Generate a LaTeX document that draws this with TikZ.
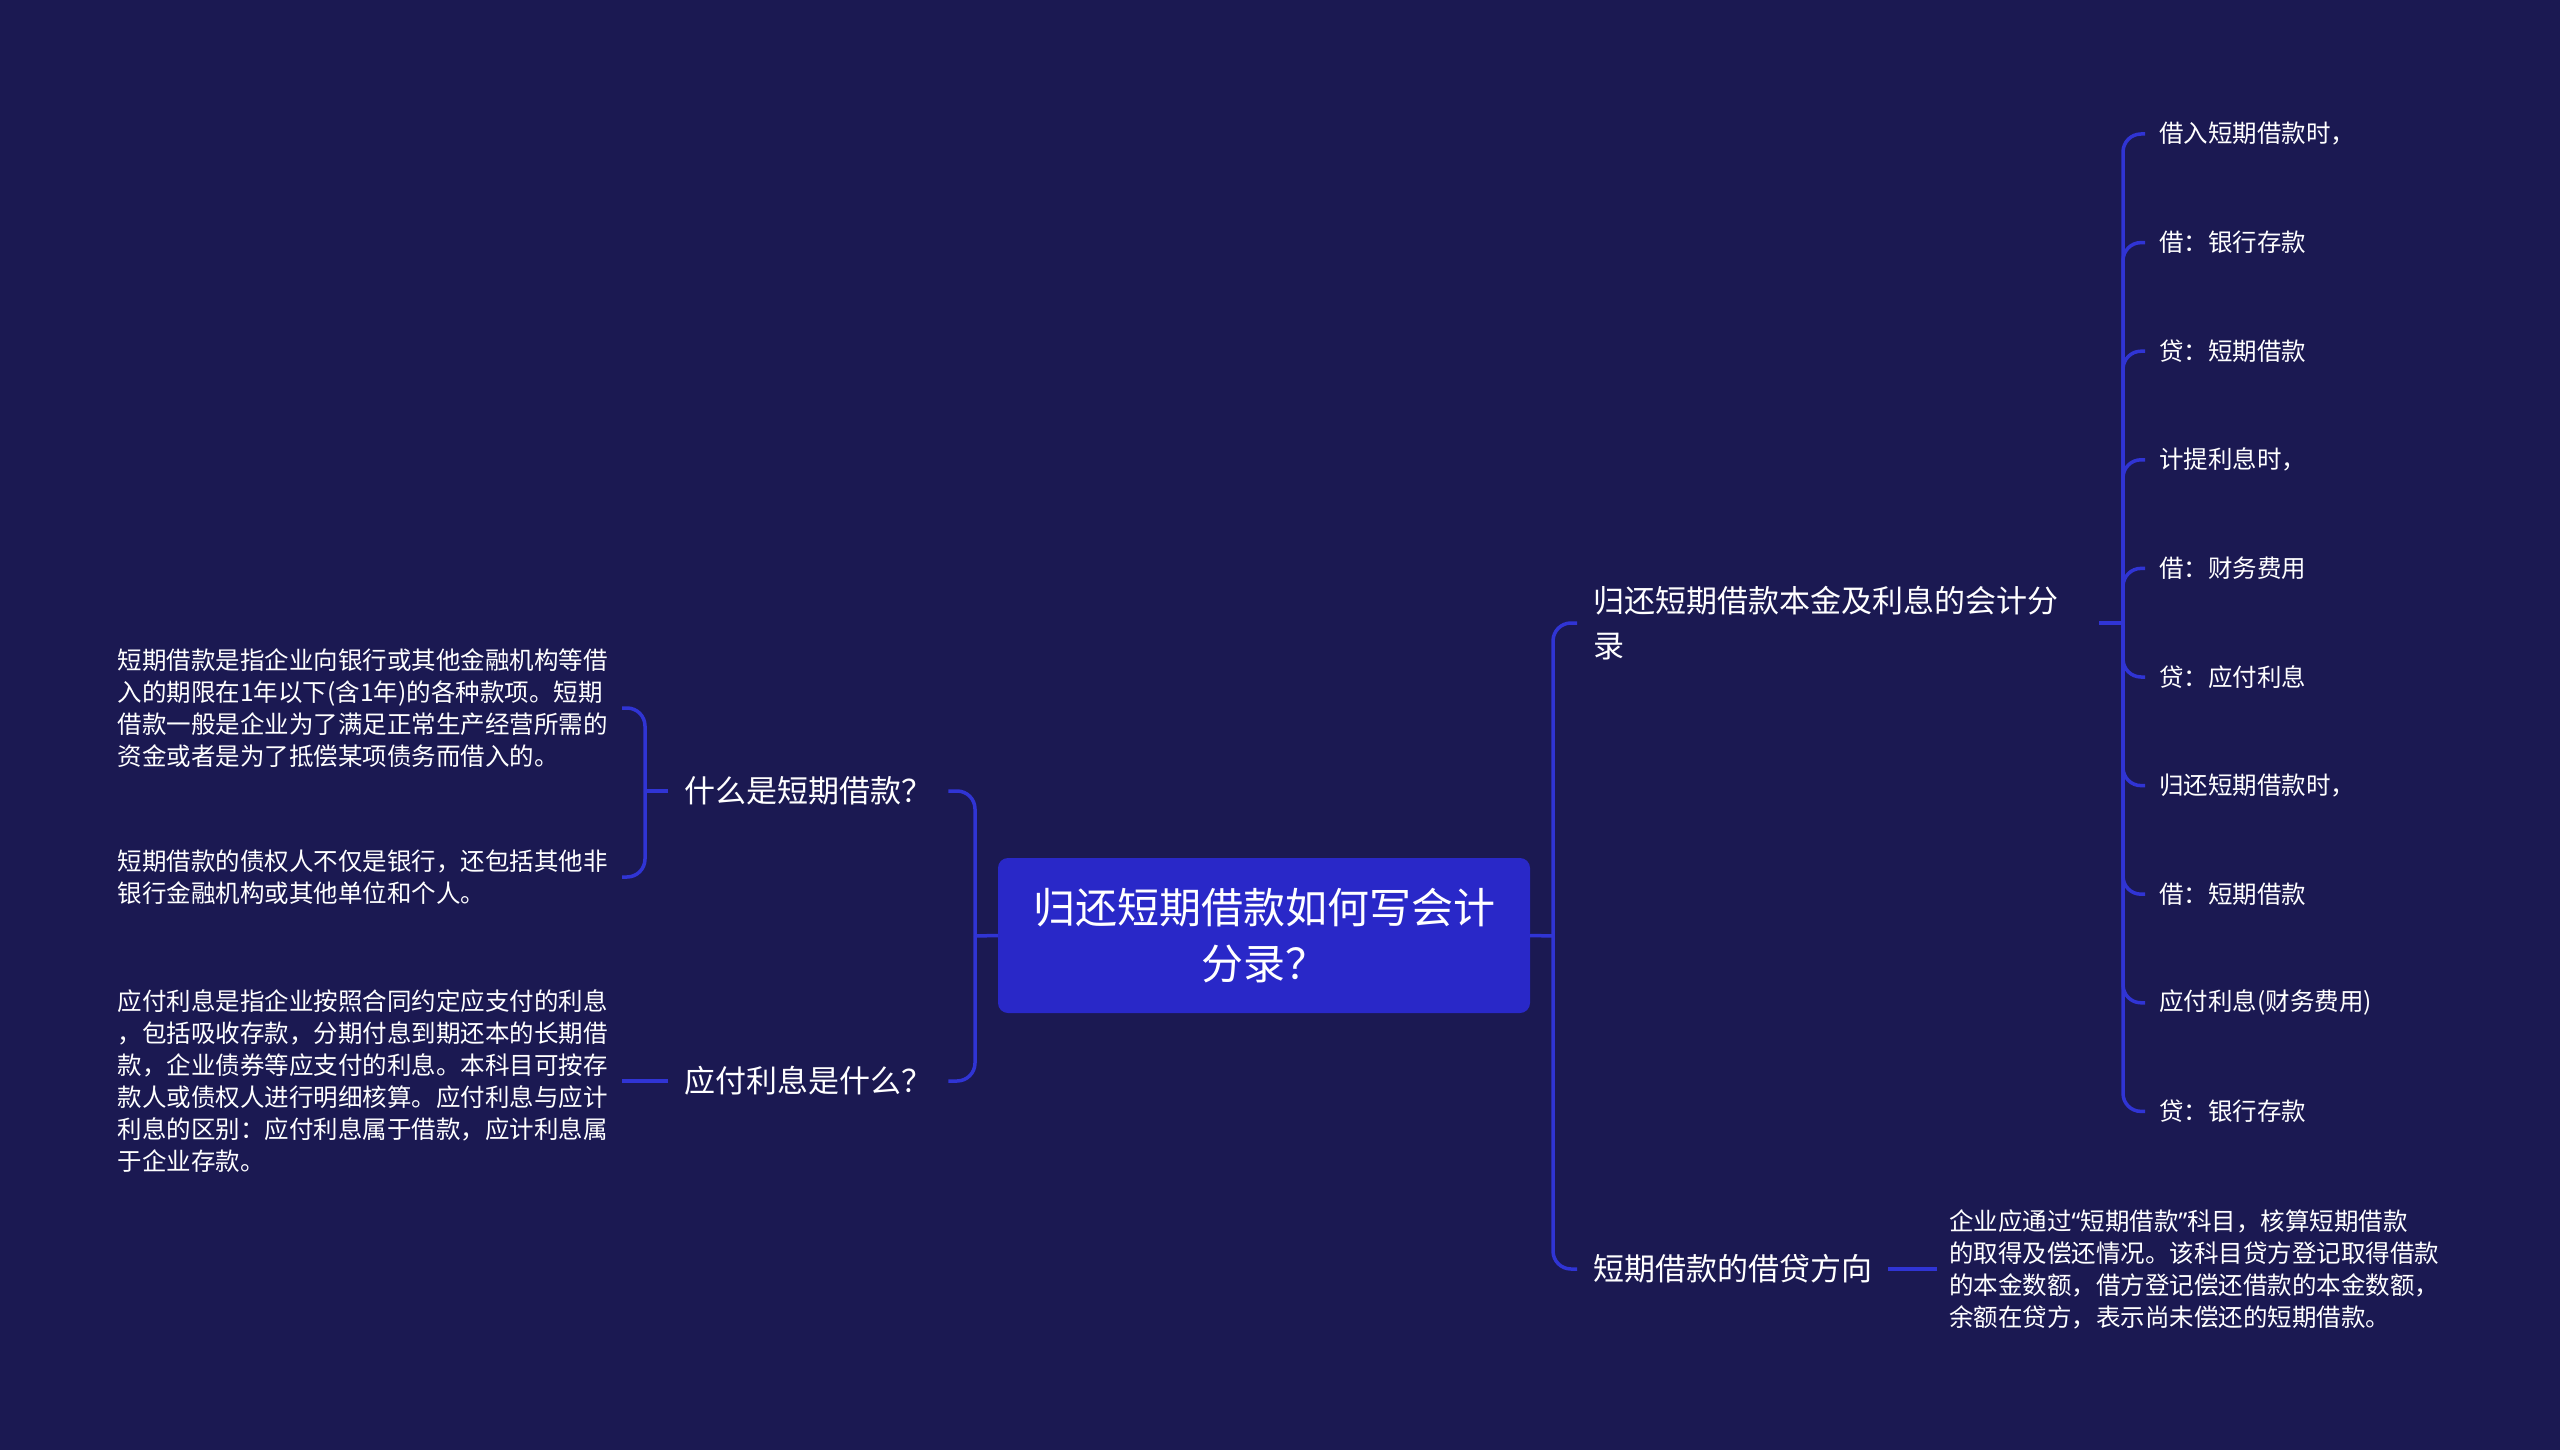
\documentclass[tikz,border=0pt]{standalone}
\usepackage{fontspec}
\setmainfont{Noto Sans CJK SC}
\newfontfamily\quotefont{Noto Sans}
\definecolor{bgnavy}{RGB}{27,25,82}
\definecolor{rootblue}{RGB}{41,40,200}
\definecolor{linkblue}{RGB}{48,52,212}

\begin{document}
\begin{tikzpicture}[x=1pt, y=-1pt,
    link/.style={draw=linkblue, line width=3.5pt, rounded corners=18pt},
    rootnode/.style={fill=rootblue, rounded corners=10pt, text=white, align=center,
        minimum width=532pt, minimum height=155pt, font=\fontsize{42}{56}\selectfont},
    topic/.style={text=white, align=left, inner xsep=16pt, font=\fontsize{31}{45}\selectfont},
    note/.style={text=white, align=left, inner xsep=14pt, font=\fontsize{24.5}{32}\selectfont}]

    \fill[bgnavy] (0, 0) rectangle (2560, 1450);
    \useasboundingbox (0, 0) rectangle (2560, 1450);

    \node[rootnode] (root) at (1264, 935.5) {归还短期借款如何写会计\\分录？};

    \node[topic, anchor=west] (whatloan) at (668, 791) {什么是短期借款？};
    \node[topic, anchor=west] (whatint) at (668, 1081) {应付利息是什么？};

    \node[note, anchor=east] (loandef) at (622, 708) {短期借款是指企业向银行或其他金融机构等借\\入的期限在1年以下(含1年)的各种款项。短期\\借款一般是企业为了满足正常生产经营所需的\\资金或者是为了抵偿某项债务而借入的。};
    \node[note, anchor=east] (loanwho) at (622, 877) {短期借款的债权人不仅是银行，还包括其他非\\银行金融机构或其他单位和个人。};
    \node[note, anchor=east] (intdef) at (622, 1081) {应付利息是指企业按照合同约定应支付的利息\\，包括吸收存款，分期付息到期还本的长期借\\款，企业债券等应支付的利息。本科目可按存\\款人或债权人进行明细核算。应付利息与应计\\利息的区别：应付利息属于借款，应计利息属\\于企业存款。};

    \node[topic, anchor=west, text width=490pt] (entry) at (1577, 623) {归还短期借款本金及利息的会计分\\录};
    \node[topic, anchor=west] (direction) at (1577, 1269) {短期借款的借贷方向};
    \node[note, anchor=west, inner xsep=12pt] (dirnote) at (1937, 1269) {企业应通过{\quotefont “}短期借款{\quotefont ”}科目，核算短期借款\\的取得及偿还情况。该科目贷方登记取得借款\\的本金数额，借方登记偿还借款的本金数额，\\余额在贷方，表示尚未偿还的短期借款。};

    \node[note, anchor=west] (borrow) at (2145, 134) {借入短期借款时，};
    \node[note, anchor=west] (dbank) at (2145, 242.6) {借：银行存款};
    \node[note, anchor=west] (cloan) at (2145, 351.2) {贷：短期借款};
    \node[note, anchor=west] (accrue) at (2145, 459.8) {计提利息时，};
    \node[note, anchor=west] (dfin) at (2145, 568.4) {借：财务费用};
    \node[note, anchor=west] (cint) at (2145, 677) {贷：应付利息};
    \node[note, anchor=west] (repay) at (2145, 785.6) {归还短期借款时，};
    \node[note, anchor=west] (dloan) at (2145, 894.2) {借：短期借款};
    \node[note, anchor=west] (dint) at (2145, 1002.8) {应付利息(财务费用)};
    \node[note, anchor=west] (cbank) at (2145, 1111.4) {贷：银行存款};

    \coordinate (lspine) at (975, 936);
    \coordinate (qspine) at (645, 791);
    \coordinate (rspine) at (1553, 936);
    \coordinate (espine) at (2123, 623);

    \draw[link] (root.west) -- (lspine);
    \draw[link] (whatloan.east) -| (lspine);
    \draw[link] (whatint.east) -| (lspine);
    \draw[link] (whatloan.west) -- (qspine);
    \draw[link] (loandef.east) -| (qspine);
    \draw[link] (loanwho.east) -| (qspine);
    \draw[link] (whatint.west) -- (intdef.east);

    \draw[link] (root.east) -- (rspine);
    \draw[link] (rspine) |- (entry.west);
    \draw[link] (rspine) |- (direction.west);
    \draw[link] (direction.east) -- (dirnote.west);
    \draw[link] (entry.east) -- (espine);
    \draw[link] (espine) |- (borrow.west);
    \draw[link] (espine) |- (dbank.west);
    \draw[link] (espine) |- (cloan.west);
    \draw[link] (espine) |- (accrue.west);
    \draw[link] (espine) |- (dfin.west);
    \draw[link] (espine) |- (cint.west);
    \draw[link] (espine) |- (repay.west);
    \draw[link] (espine) |- (dloan.west);
    \draw[link] (espine) |- (dint.west);
    \draw[link] (espine) |- (cbank.west);
\end{tikzpicture}
\end{document}
